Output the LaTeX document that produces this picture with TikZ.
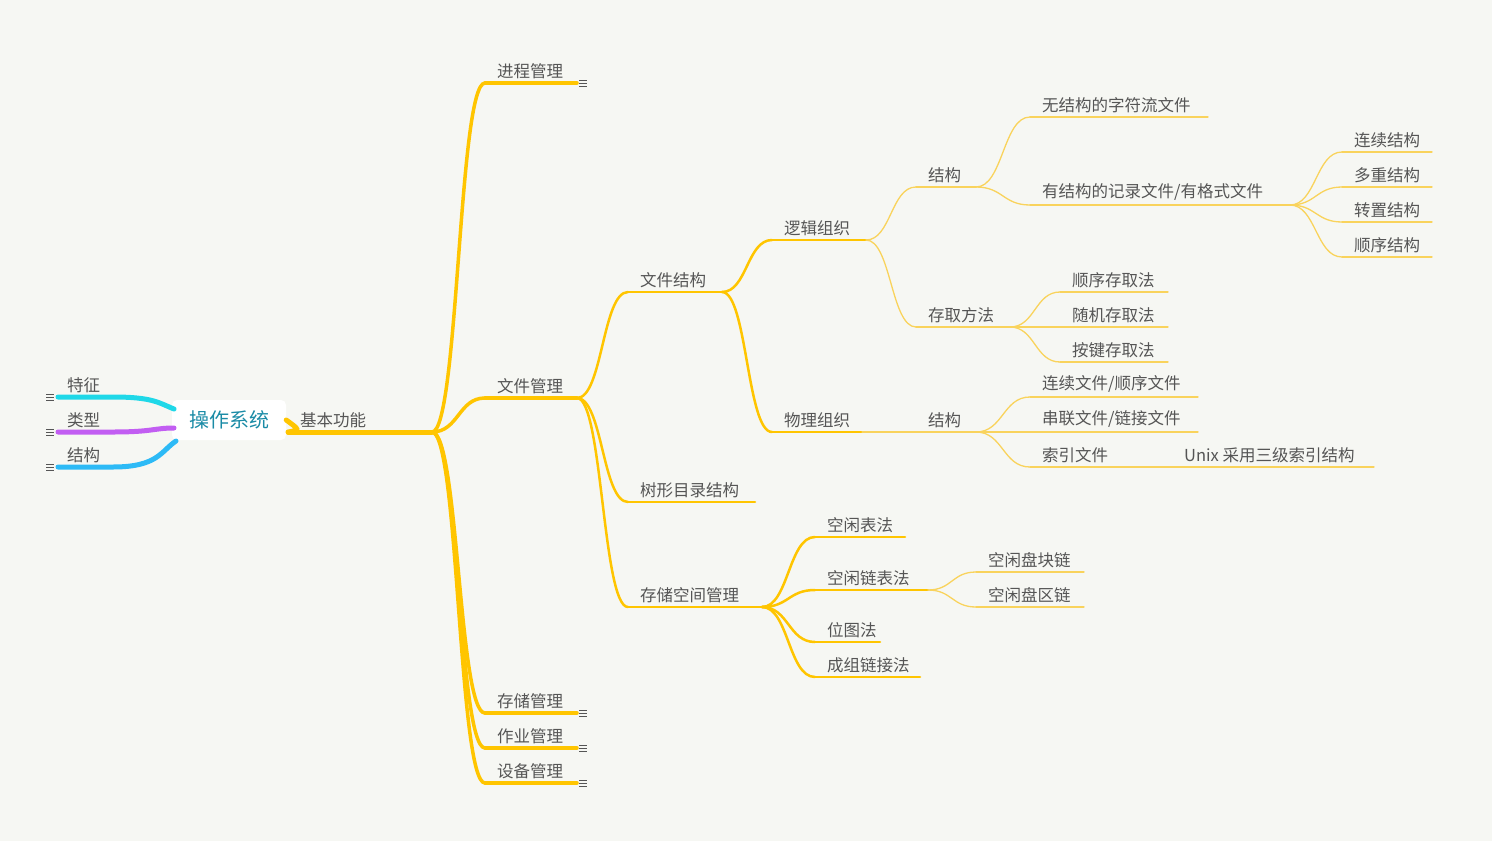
\documentclass[tikz,border=0pt]{standalone}
\usepackage{fontspec}
\setmainfont{Noto Sans CJK SC}
\usetikzlibrary{positioning,calc}
\definecolor{mapbg}{HTML}{F6F7F3}
\definecolor{mapgold}{HTML}{FFC500}
\definecolor{mapthin}{HTML}{F9D35C}
\definecolor{maptext}{HTML}{555555}
\definecolor{maproot}{HTML}{1A8BA6}
\definecolor{mapcyan}{HTML}{1FD8E8}
\definecolor{mappurple}{HTML}{C25EF2}
\definecolor{mapblue}{HTML}{2DBAF6}
\tikzset{
  lv1/.style={mapgold, line width=5pt, line cap=round},
  lv2/.style={mapgold, line width=3.5pt, line cap=round},
  lv3/.style={mapgold, line width=2.5pt, line cap=round},
  lv4/.style={mapthin, line width=1.3pt, line cap=round},
  tlabel/.style={anchor=south west, inner sep=0pt, text=maptext, font=\fontsize{16.5}{18}\selectfont},
  marker/.style={maptext, line width=0.8pt}
}
% underline topic: style, name, x1, x2, y, text
\newcommand\topic[6]{%
  \coordinate (#2-w) at (#3,#5);
  \coordinate (#2-e) at (#4,#5);
  \draw[#1] (#2-w) -- (#2-e);
  \node[tlabel] (#2) at ($(#2-w)+(12,-4)$) {#6};}
% curved connector between two points
\newcommand\branch[3]{%
  \draw[#1] let \p1=(#2), \p2=(#3) in (\p1) .. controls ({(\x1+\x2)/2},\y1) and ({(\x1+\x2)/2},\y2) .. (\p2);}
\newcommand\fold[1]{%
  \foreach \d in {-3,0,3} {\draw[marker] ($(#1)+(2,\d)$) -- ++(8,0);}}
\begin{document}
\begin{tikzpicture}[x=1pt,y=-1pt]
\fill[mapbg] (0,0) rectangle (1492,841);
\useasboundingbox (0,0) rectangle (1492,841);

% root and left side
\topic{lv1}{jbgn}{288}{432}{432}{基本功能}
\node[fill=white, rounded corners=5pt, minimum width=114pt, minimum height=40pt,
  text=maproot, font=\fontsize{20}{22}\selectfont] (czxt) at (229,420) {操作系统};
\coordinate (tz-w) at (58,397);
\coordinate (lx-w) at (58,432);
\coordinate (jg-w) at (58,467);
\coordinate (tz-r) at (174,409);
\coordinate (lx-r) at (174,428);
\coordinate (jg-r) at (176,441);
\draw[mapcyan, line width=5pt, line cap=round] (tz-w) -- ++(55,0) .. controls +(40,0) and +(-15,-6) .. (tz-r);
\draw[mappurple, line width=5pt, line cap=round] (lx-w) -- ++(55,0) .. controls +(40,0) and +(-20,0) .. (lx-r);
\draw[mapblue, line width=5pt, line cap=round] (jg-w) -- ++(55,0) .. controls +(45,0) and +(-15,10) .. (jg-r);
\node[tlabel] (tz) at ($(tz-w)+(9,-4)$) {特征};
\node[tlabel] (lx) at ($(lx-w)+(9,-4)$) {类型};
\node[tlabel] (jg) at ($(jg-w)+(9,-4)$) {结构};
\coordinate (tz-m) at (44,397);
\coordinate (lx-m) at (44,432);
\coordinate (jg-m) at (44,467);
\fold{tz-m}\fold{lx-m}\fold{jg-m}
\draw[lv1] (czxt.east) .. controls (300,430) .. (jbgn-w);

% main branches
\topic{lv2}{jcgl}{485}{577}{83}{进程管理}
\topic{lv2}{wjgl}{485}{577}{398}{文件管理}
\topic{lv2}{ccgl}{485}{577}{713}{存储管理}
\topic{lv2}{zygl}{485}{577}{748}{作业管理}
\topic{lv2}{sbgl}{485}{577}{783}{设备管理}
\foreach \k in {jcgl,wjgl,ccgl,zygl,sbgl} {\branch{lv2}{jbgn-e}{\k-w}}
\foreach \k in {jcgl,ccgl,zygl,sbgl} {\fold{\k-e}}

% file management
\topic{lv3}{wjjg}{628}{722}{292}{文件结构}
\topic{lv3}{sxml}{628}{755}{502}{树形目录结构}
\topic{lv3}{cckj}{628}{762}{607}{存储空间管理}
\foreach \k in {wjjg,sxml,cckj} {\branch{lv3}{wjgl-e}{\k-w}}

\topic{lv3}{ljzz}{772}{866}{240}{逻辑组织}
\topic{lv3}{wlzz}{772}{862}{432}{物理组织}
\foreach \k in {ljzz,wlzz} {\branch{lv3}{wjjg-e}{\k-w}}

\topic{lv4}{ljjg}{916}{976}{187}{结构}
\topic{lv4}{cqff}{916}{1010}{327}{存取方法}
\foreach \k in {ljjg,cqff} {\branch{lv4}{ljzz-e}{\k-w}}

\topic{lv4}{wjgw}{1030}{1208}{117}{无结构的字符流文件}
\topic{lv4}{yjgw}{1030}{1290}{205}{有结构的记录文件/有格式文件}
\foreach \k in {wjgw,yjgw} {\branch{lv4}{ljjg-e}{\k-w}}

\topic{lv4}{lxjg}{1342}{1432}{152}{连续结构}
\topic{lv4}{dcjg}{1342}{1432}{187}{多重结构}
\topic{lv4}{zzjg}{1342}{1432}{222}{转置结构}
\topic{lv4}{sxjg}{1342}{1432}{257}{顺序结构}
\foreach \k in {lxjg,dcjg,zzjg,sxjg} {\branch{lv4}{yjgw-e}{\k-w}}

\topic{lv4}{sxcq}{1060}{1168}{292}{顺序存取法}
\topic{lv4}{sjcq}{1060}{1168}{327}{随机存取法}
\topic{lv4}{ajcq}{1060}{1168}{362}{按键存取法}
\foreach \k in {sxcq,sjcq,ajcq} {\branch{lv4}{cqff-e}{\k-w}}

\topic{lv4}{wljg}{916}{976}{432}{结构}
\draw[lv4] (wlzz-e) -- (wljg-w);
\topic{lv4}{lxwj}{1030}{1198}{397}{连续文件/顺序文件}
\topic{lv4}{clwj}{1030}{1198}{432}{串联文件/链接文件}
\topic{lv4}{sywj}{1030}{1172}{467}{索引文件}
\foreach \k in {lxwj,clwj,sywj} {\branch{lv4}{wljg-e}{\k-w}}
\topic{lv4}{unix}{1172}{1374}{467}{Unix 采用三级索引结构}
\draw[lv4] (sywj-e) -- (unix-w);

% storage space
\topic{lv3}{kxbf}{815}{905}{537}{空闲表法}
\topic{lv3}{kxlb}{815}{928}{590}{空闲链表法}
\topic{lv3}{wtf}{815}{880}{642}{位图法}
\topic{lv3}{czlj}{815}{920}{677}{成组链接法}
\foreach \k in {kxbf,kxlb,wtf,czlj} {\branch{lv3}{cckj-e}{\k-w}}
\topic{lv4}{kxpk}{976}{1084}{572}{空闲盘块链}
\topic{lv4}{kxpq}{976}{1084}{607}{空闲盘区链}
\foreach \k in {kxpk,kxpq} {\branch{lv4}{kxlb-e}{\k-w}}
\end{tikzpicture}
\end{document}
